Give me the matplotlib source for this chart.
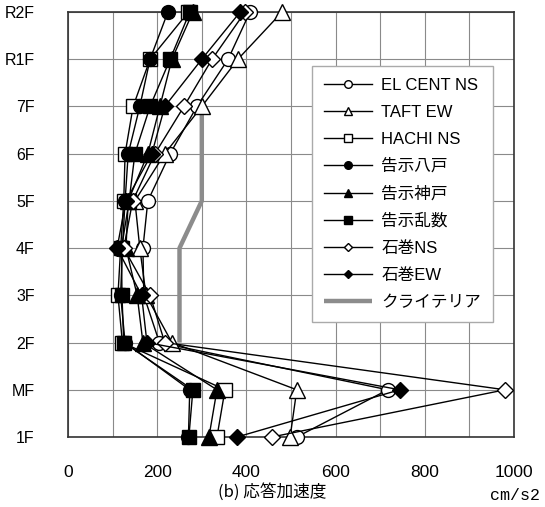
import numpy as np
import matplotlib
matplotlib.use("Agg")
import matplotlib.pyplot as plt

plt.rcParams['font.family'] = ['Liberation Sans', 'Noto Sans CJK JP', 'DejaVu Sans']

floors = ["1F", "MF", "2F", "3F", "4F", "5F", "6F", "7F", "R1F", "R2F"]

el_cent_ns = [513, 717, 205, 170, 168, 179, 229, 289, 359, 408]
taft_ew = [498, 513, 233, 175, 161, 150, 217, 300, 381, 480]
hachi_ns = [334, 352, 122, 112, 118, 125, 128, 146, 184, 270]
kokuji_hachinohe = [270, 273, 128, 118, 122, 128, 135, 161, 184, 224]
kokuji_kobe = [316, 334, 168, 155, 130, 135, 179, 206, 233, 280]
kokuji_ransu = [271, 280, 125, 121, 120, 137, 150, 184, 229, 273]
ishinomaki_ns = [457, 980, 217, 184, 125, 145, 195, 260, 323, 397]
ishinomaki_ew = [379, 744, 177, 165, 110, 130, 188, 217, 300, 386]

criteria_x = [250, 250, 300, 300]
criteria_floor = ["2F", "4F", "5F", "7F"]

series = [
    ("EL CENT NS", el_cent_ns, "o", "white"),
    ("TAFT EW", taft_ew, "^", "white"),
    ("HACHI NS", hachi_ns, "s", "white"),
    ("告示八戸", kokuji_hachinohe, "o", "black"),
    ("告示神戸", kokuji_kobe, "^", "black"),
    ("告示乱数", kokuji_ransu, "s", "black"),
    ("石巻NS", ishinomaki_ns, "D", "white"),
    ("石巻EW", ishinomaki_ew, "D", "black"),
]
msize = {"o": 10, "^": 11, "s": 10, "D": 8}

fig = plt.figure(figsize=(5.45, 5.07), dpi=100)
ax = fig.add_axes([68/545, 1-437/507, (514-68)/545, (437-12)/507])

y = np.arange(len(floors))
for name, vals, m, fc in series:
    ax.plot(vals, y, color="black", lw=1.0, marker=m, markersize=msize[m],
            markerfacecolor=fc, markeredgecolor="black", markeredgewidth=1.0,
            label=name, clip_on=False, zorder=3)

cy = [floors.index(f) for f in criteria_floor]
ax.plot(criteria_x, cy, color="#8c8c8c", lw=3.2, label="クライテリア", zorder=2,
        solid_capstyle="butt")

ax.set_xlim(0, 1000)
ax.set_ylim(0, 9)
ax.set_xticks(np.arange(0, 1001, 200))
ax.set_xticks(np.arange(0, 1001, 100), minor=True)
ax.set_yticks(y)
ax.set_yticklabels(floors)
ax.grid(True, which="both", axis="x", color="#8a8a8a", lw=0.8)
ax.grid(True, axis="y", color="#8a8a8a", lw=0.8)
ax.set_axisbelow(True)
ax.tick_params(axis="both", which="both", length=0)
ax.tick_params(axis="x", pad=20, labelsize=12.5)
ax.tick_params(axis="y", pad=24, labelsize=11.5)
for s in ax.spines.values():
    s.set_color("#333333")
    s.set_linewidth(1.2)

leg = ax.legend(loc="upper left", bbox_to_anchor=(312/545, 1-66/507),
                bbox_transform=fig.transFigure, borderaxespad=0,
                fontsize=12, markerscale=0.55, handlelength=2.9,
                handletextpad=0.55, labelspacing=0.72, borderpad=0.7,
                fancybox=False, framealpha=1, edgecolor="#aaaaaa")
leg.get_frame().set_linewidth(1.0)

fig.text(272/545, 1-492/507, "(b) 応答加速度", ha="center", va="center", fontsize=12,
         family=["Noto Sans CJK JP"])
fig.text(540/545, 1-495/507, "cm/s2", ha="right", va="center", fontsize=12,
         family=["Liberation Mono"])

fig.savefig("out.png", dpi=100)
